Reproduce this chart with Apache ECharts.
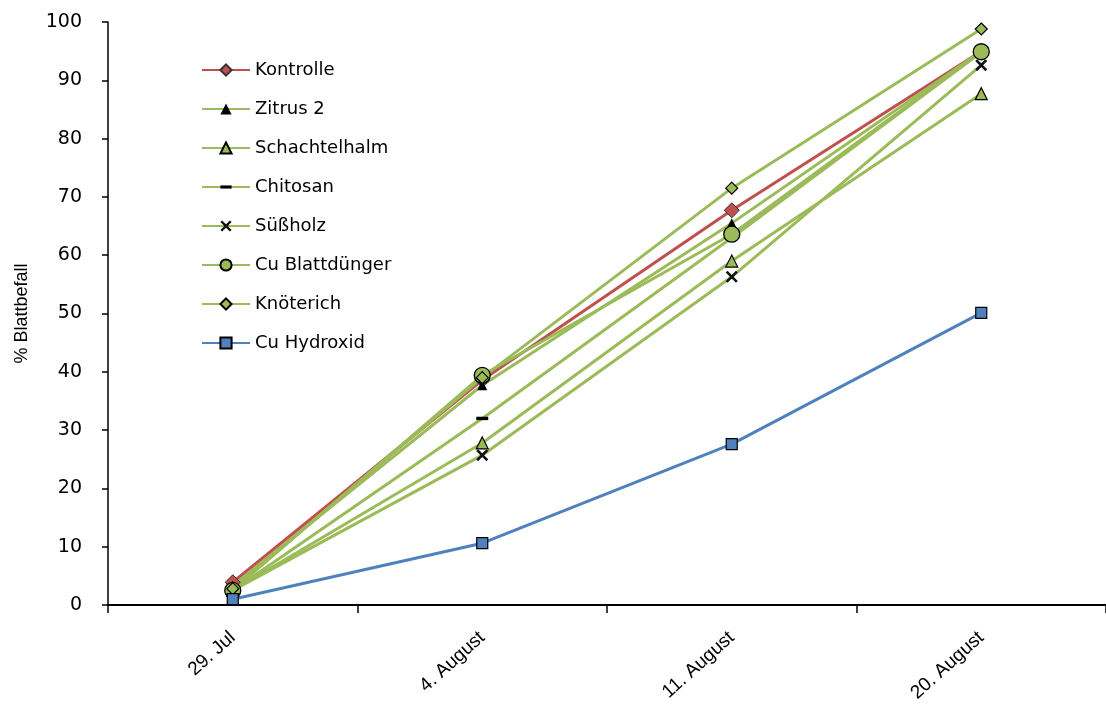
<!DOCTYPE html>
<html><head><meta charset="utf-8">
<script src="https://cdn.jsdelivr.net/npm/echarts@6/dist/echarts.min.js"></script>
<style>html,body{margin:0;padding:0;background:#fff}#c{width:1106px;height:710px}</style>
</head><body><div id="c"></div>
<script>
const categories = ['29. Jul', '4. August', '11. August', '20. August'];
const yTicks = [0, 10, 20, 30, 40, 50, 60, 70, 80, 90, 100];
const kontrolle = [3.9, 38.6, 67.7, 95];
const zitrus2 = [3.3, 37.7, 65.5, 95];
const schachtelhalm = [2.5, 27.8, 59, 87.7];
const chitosan = [2.5, 32, 63, 94.8];
const suessholz = [2.5, 25.7, 56.3, 92.6];
const cuBlattduenger = [2.5, 39.4, 63.6, 94.9];
const knoeterich = [2.8, 39, 71.5, 98.8];
const cuHydroxid = [1, 10.6, 27.6, 50.1];

const RED = '#c0504d', GREEN = '#9bbb59', BLUE = '#4f81bd';
const xPath = 'path://M0,1.5 L1.5,0 L5,3.5 L8.5,0 L10,1.5 L6.5,5 L10,8.5 L8.5,10 L5,6.5 L1.5,10 L0,8.5 L3.5,5 Z';
const dashPath = 'path://M0,0 M12,12 M0,4.3 L12,4.3 L12,7.7 L0,7.7 Z';

function s(name, data, color, symbol, size, fill, border, bw) {
  return {
    name, type: 'line', data, symbol, symbolSize: size,
    lineStyle: { color, width: 3 },
    itemStyle: { color: fill, borderColor: border, borderWidth: bw },
    emphasis: { disabled: true }, animation: false
  };
}

const series = [
  s('Kontrolle', kontrolle, RED, 'diamond', 15, RED, '#333', 1),
  s('Zitrus 2', zitrus2, GREEN, 'triangle', 10, '#000', '#000', 0),
  s('Schachtelhalm', schachtelhalm, GREEN, 'triangle', 12, GREEN, '#000', 1.2),
  s('Chitosan', chitosan, GREEN, dashPath, 12, '#000', '#000', 0),
  s('Süßholz', suessholz, GREEN, xPath, 12, '#111', '#111', 0),
  s('Cu Blattdünger', cuBlattduenger, GREEN, 'circle', 16, GREEN, '#000', 1.3),
  s('Knöterich', knoeterich, GREEN, 'diamond', 12, GREEN, '#000', 1.2),
  s('Cu Hydroxid', cuHydroxid, BLUE, 'rect', 11, BLUE, '#000', 1.2)
];

const chart = echarts.init(document.getElementById('c'));
chart.setOption({
  backgroundColor: '#fff',
  animation: false,
  grid: { left: 108, right: -2, top: 22, bottom: 105 },
  legend: {
    orient: 'vertical', left: 196, top: 56,
    itemWidth: 48, itemHeight: 14, itemGap: 21,
    textStyle: { fontFamily: 'DejaVu Sans', fontSize: 18, color: '#000' },
    data: series.map(x => x.name)
  },
  xAxis: {
    type: 'category', data: categories, boundaryGap: true,
    axisLine: { lineStyle: { color: '#000', width: 2 } },
    axisTick: { show: true, length: 8, lineStyle: { color: '#000', width: 1.5 } },
    axisLabel: { rotate: 42, margin: 30, fontFamily: 'Liberation Sans', fontSize: 19, color: '#000' }
  },
  yAxis: {
    type: 'value', min: yTicks[0], max: yTicks[yTicks.length - 1], interval: 10,
    name: '% Blattbefall', nameLocation: 'middle', nameGap: 77, nameRotate: 90,
    nameTextStyle: { fontFamily: 'Liberation Sans', fontSize: 18, color: '#000' },
    splitLine: { show: false },
    axisLine: { show: true, lineStyle: { color: '#000', width: 1.5 } },
    axisTick: { show: true, length: 6, lineStyle: { color: '#000', width: 1.5 } },
    axisLabel: { margin: 26, fontFamily: 'DejaVu Sans', fontSize: 19, color: '#000' }
  },
  series
});
</script></body></html>
